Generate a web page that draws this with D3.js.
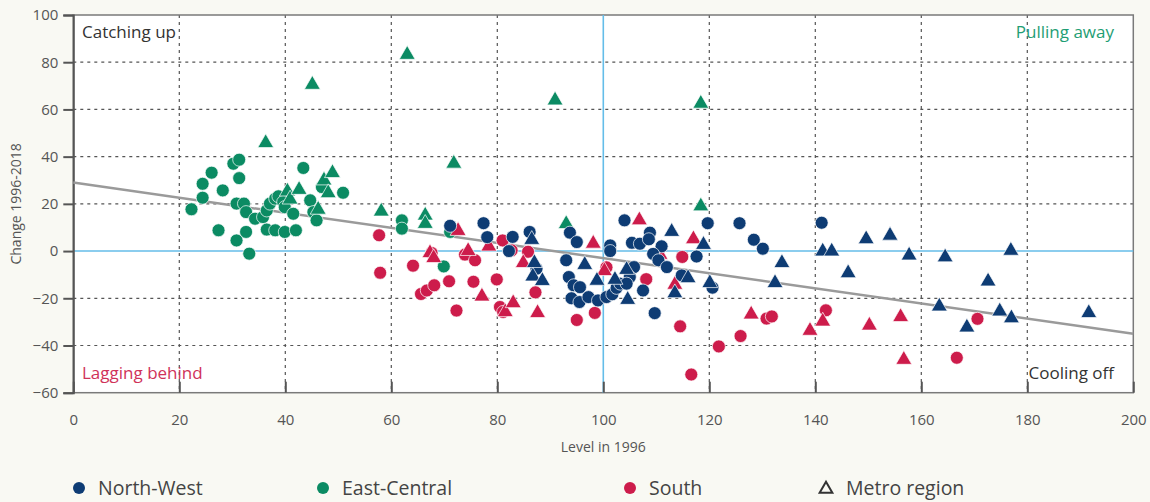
<!DOCTYPE html>
<html>
<head>
<meta charset="utf-8">
<script src="https://cdn.jsdelivr.net/npm/d3@7"></script>
<style>
  html, body { margin: 0; padding: 0; background: #f9f9f3; }
  svg { display: block; font-family: "Open Sans", "Noto Sans", sans-serif; }
</style>
</head>
<body>
<svg id="chart" width="1150" height="502"></svg>
<script>
// ---------- data ----------
const xTicks = [0, 20, 40, 60, 80, 100, 120, 140, 160, 180, 200];
const yTicks = [-60, -40, -20, 0, 20, 40, 60, 80, 100];

const regions = ["North-West", "East-Central", "South"];
const regionColors = ["#0e3c74", "#0b8b63", "#cd1c4b"];

// [level 1996, change 1996-2018]
const nwCircles = [[71.1,10.7],[77.4,11.8],[78.1,5.9],[82.9,6.0],[82.2,0.0],[86.1,8.1],[87.4,-7.5],[93.7,7.8],[95.0,3.8],[93.0,-3.9],[93.5,-11.0],[94.4,-14.5],[95.6,-15.3],[94.0,-20.0],[95.5,-21.6],[97.2,-19.5],[99.0,-20.9],[100.6,-19.5],[101.7,-18.3],[102.5,-15.6],[103.2,-13.8],[101.3,2.4],[101.3,0.0],[104.0,13.0],[105.4,3.5],[106.9,3.1],[108.8,7.8],[108.6,5.0],[111.0,2.0],[109.4,-1.2],[110.4,-3.9],[112.0,-6.8],[105.8,-6.8],[105.0,-11.0],[104.4,-13.8],[107.5,-16.7],[109.7,-26.3],[114.8,-10.3],[117.6,-2.3],[119.7,11.8],[120.6,-15.5],[125.7,11.8],[128.4,4.8],[130.1,1.0],[141.2,12.0]];
const nwTriangles = [[86.5,5.2],[87.0,-4.6],[86.7,-10.3],[88.5,-12.2],[96.5,-5.4],[98.8,-12.1],[102.2,-11.7],[104.4,-7.5],[104.6,-20.2],[112.9,8.6],[113.5,-17.4],[116.0,-11.0],[118.9,3.1],[120.1,-13.1],[132.4,-13.1],[133.7,-4.6],[141.4,0.3],[143.1,0.3],[146.2,-8.9],[149.6,5.5],[154.1,7.0],[157.7,-1.4],[164.5,-2.2],[176.9,0.6],[172.6,-12.4],[163.4,-23.0],[174.8,-25.1],[177.0,-28.0],[168.6,-31.9],[191.6,-25.8]];

const ecCircles = [[22.3,17.7],[24.4,22.6],[24.4,28.5],[26.1,33.2],[28.2,25.7],[27.4,8.8],[30.2,37.0],[31.3,38.7],[31.3,30.9],[30.8,20.1],[32.2,20.1],[32.6,16.5],[32.6,8.1],[30.8,4.5],[33.2,-1.1],[34.3,13.7],[35.8,14.4],[36.5,17.2],[37.1,20.1],[38.1,22.2],[38.7,23.2],[39.6,20.8],[39.9,18.6],[41.5,15.8],[36.5,9.1],[38.1,8.8],[39.9,8.1],[42.0,8.8],[43.4,35.2],[44.7,21.5],[45.3,16.5],[45.9,13.0],[46.9,27.1],[50.9,24.7],[62.0,13.0],[62.0,9.5],[71.1,8.1],[69.9,-6.5]];
const ecTriangles = [[36.3,46.2],[45.1,70.9],[40.4,25.7],[40.9,22.3],[42.6,26.4],[47.3,30.4],[48.9,33.5],[48.1,25.0],[46.2,18.0],[58.1,17.2],[63.0,83.6],[90.9,64.3],[118.4,62.9],[71.8,37.5],[66.4,15.5],[66.4,12.0],[118.4,19.4],[93.0,11.9]];

const sCircles = [[57.7,6.7],[57.9,-9.2],[64.1,-6.2],[65.6,-18.2],[66.7,-16.7],[68.1,-14.5],[67.6,-0.8],[70.9,-12.8],[72.3,-25.2],[73.9,-1.5],[75.8,-3.9],[75.5,-13.0],[79.9,-12.0],[81.0,4.5],[82.7,0.3],[80.5,-23.7],[81.1,-25.8],[85.8,-0.3],[87.2,-17.5],[95.0,-29.2],[98.4,-26.2],[100.6,-6.9],[108.1,-11.9],[114.9,-2.5],[114.5,-31.9],[121.8,-40.4],[125.9,-36.0],[116.6,-52.3],[130.8,-28.6],[131.8,-27.7],[142.0,-25.1],[166.7,-45.2],[170.6,-28.7]];
const sTriangles = [[67.3,-0.4],[68.0,-2.5],[72.6,9.0],[74.5,0.5],[78.4,2.4],[77.1,-18.8],[81.5,-25.4],[83.0,-21.6],[84.9,-4.6],[87.6,-25.8],[98.1,3.6],[106.8,13.5],[110.7,-1.1],[117.0,5.5],[113.5,-13.8],[100.2,-8.0],[127.9,-26.4],[141.4,-29.4],[139.0,-33.3],[150.2,-31.1],[156.1,-27.5],[156.7,-45.6]];

const trendLine = [[0, 29], [200, -35]];

const quadrantLabels = ["Catching up", "Pulling away", "Lagging behind", "Cooling off"];
const xTitle = "Level in 1996";
const yTitle = "Change 1996-2018";
const metroLabel = "Metro region";

// ---------- layout ----------
const svg = d3.select("#chart");
const L = 73.3, R = 1133.3, T = 15, B = 392.7;
const x = d3.scaleLinear().domain([0, 200]).range([L, R]);
const y = d3.scaleLinear().domain([-60, 100]).range([B, T]);

svg.append("rect").attr("x", L).attr("y", T).attr("width", R - L).attr("height", B - T).attr("fill", "#ffffff");

// grid
const grid = svg.append("g");
grid.selectAll("line.gx").data(xTicks.filter(d => d > 0 && d < 200 && d !== 100)).join("line")
  .attr("x1", d => x(d)).attr("x2", d => x(d)).attr("y1", T).attr("y2", B)
  .attr("stroke", "#555").attr("stroke-width", 1.2).attr("stroke-dasharray", "3,4");
grid.selectAll("line.gy").data(yTicks.filter(d => d > -60 && d < 100 && d !== 0)).join("line")
  .attr("x1", L).attr("x2", R).attr("y1", d => y(d)).attr("y2", d => y(d))
  .attr("stroke", "#555").attr("stroke-width", 1.2).attr("stroke-dasharray", "3,4");

// frame
svg.append("rect").attr("x", L).attr("y", T).attr("width", R - L).attr("height", B - T)
  .attr("fill", "none").attr("stroke", "#7a7a7a").attr("stroke-width", 1.5);

// reference lines
svg.append("line").attr("x1", L).attr("x2", R).attr("y1", y(0)).attr("y2", y(0))
  .attr("stroke", "#64bde9").attr("stroke-width", 1.6);
svg.append("line").attr("x1", x(100)).attr("x2", x(100)).attr("y1", T).attr("y2", B)
  .attr("stroke", "#64bde9").attr("stroke-width", 1.6);

// axes
const yAxis = svg.append("g").attr("transform", `translate(${L},0)`)
  .call(d3.axisLeft(y).tickValues(yTicks).tickSize(10).tickPadding(5));
yAxis.select(".domain").attr("stroke", "#555").attr("stroke-width", 2);
yAxis.selectAll(".tick line").attr("stroke", "#555").attr("stroke-width", 2);
yAxis.selectAll(".tick text").attr("fill", "#555").attr("font-size", 15).attr("font-family", "'Open Sans', sans-serif");

const xAxis = svg.append("g").attr("transform", `translate(0,${B})`)
  .call(d3.axisBottom(x).tickValues(xTicks).tickSize(-11).tickPadding(22));
xAxis.select(".domain").remove();
xAxis.selectAll(".tick line").attr("stroke", "#555").attr("stroke-width", 2);
xAxis.selectAll(".tick text").attr("fill", "#555").attr("font-size", 15).attr("font-family", "'Open Sans', sans-serif");

// titles
svg.append("text").attr("x", x(100)).attr("y", 452).attr("text-anchor", "middle")
  .attr("font-size", 14).attr("fill", "#555").text(xTitle);
svg.append("text").attr("transform", `translate(21,${(T + B) / 2}) rotate(-90)`).attr("text-anchor", "middle")
  .attr("font-size", 14).attr("fill", "#555").text(yTitle);

// trend line
svg.append("line").attr("x1", x(trendLine[0][0])).attr("y1", y(trendLine[0][1]))
  .attr("x2", x(trendLine[1][0])).attr("y2", y(trendLine[1][1]))
  .attr("stroke", "#9a9a9a").attr("stroke-width", 2.5);

// points
const tri = d3.symbol().type(d3.symbolTriangle).size(110);
const pts = svg.append("g");
function drawCircles(data, color) {
  pts.append("g").selectAll("circle").data(data).join("circle")
    .attr("cx", d => x(d[0])).attr("cy", d => y(d[1])).attr("r", 6.5)
    .attr("fill", color).attr("stroke", "#ffffff").attr("stroke-width", 0.7);
}
function drawTriangles(data, color) {
  pts.append("g").selectAll("path").data(data).join("path")
    .attr("transform", d => `translate(${x(d[0])},${y(d[1]) + 1})`).attr("d", tri)
    .attr("fill", color).attr("stroke", "#ffffff").attr("stroke-width", 0.7);
}
drawCircles(ecCircles, regionColors[1]);
drawTriangles(ecTriangles, regionColors[1]);
drawCircles(sCircles, regionColors[2]);
drawTriangles(sTriangles, regionColors[2]);
drawCircles(nwCircles, regionColors[0]);
drawTriangles(nwTriangles, regionColors[0]);

// quadrant labels
const ql = svg.append("g").attr("font-size", 17);
ql.append("text").attr("x", 82).attr("y", 38).attr("fill", "#333").text(quadrantLabels[0]);
ql.append("text").attr("x", 1114).attr("y", 38).attr("text-anchor", "end").attr("fill", "#1f9e74").text(quadrantLabels[1]);
ql.append("text").attr("x", 82).attr("y", 379).attr("fill", "#d0325a").text(quadrantLabels[2]);
ql.append("text").attr("x", 1114).attr("y", 379).attr("text-anchor", "end").attr("fill", "#333").text(quadrantLabels[3]);

// legend
const legX = [79, 323, 630];
const leg = svg.append("g");
regions.forEach((r, i) => {
  leg.append("circle").attr("cx", legX[i]).attr("cy", 488).attr("r", 6).attr("fill", regionColors[i]);
  leg.append("text").attr("x", legX[i] + 19).attr("y", 495).attr("font-size", 19.5).attr("fill", "#444").text(r);
});
leg.append("path").attr("transform", "translate(826,489)")
  .attr("d", d3.symbol().type(d3.symbolTriangle).size(70))
  .attr("fill", "none").attr("stroke", "#333").attr("stroke-width", 2);
leg.append("text").attr("x", 846).attr("y", 495).attr("font-size", 19.5).attr("fill", "#444").text(metroLabel);
</script>
</body>
</html>
